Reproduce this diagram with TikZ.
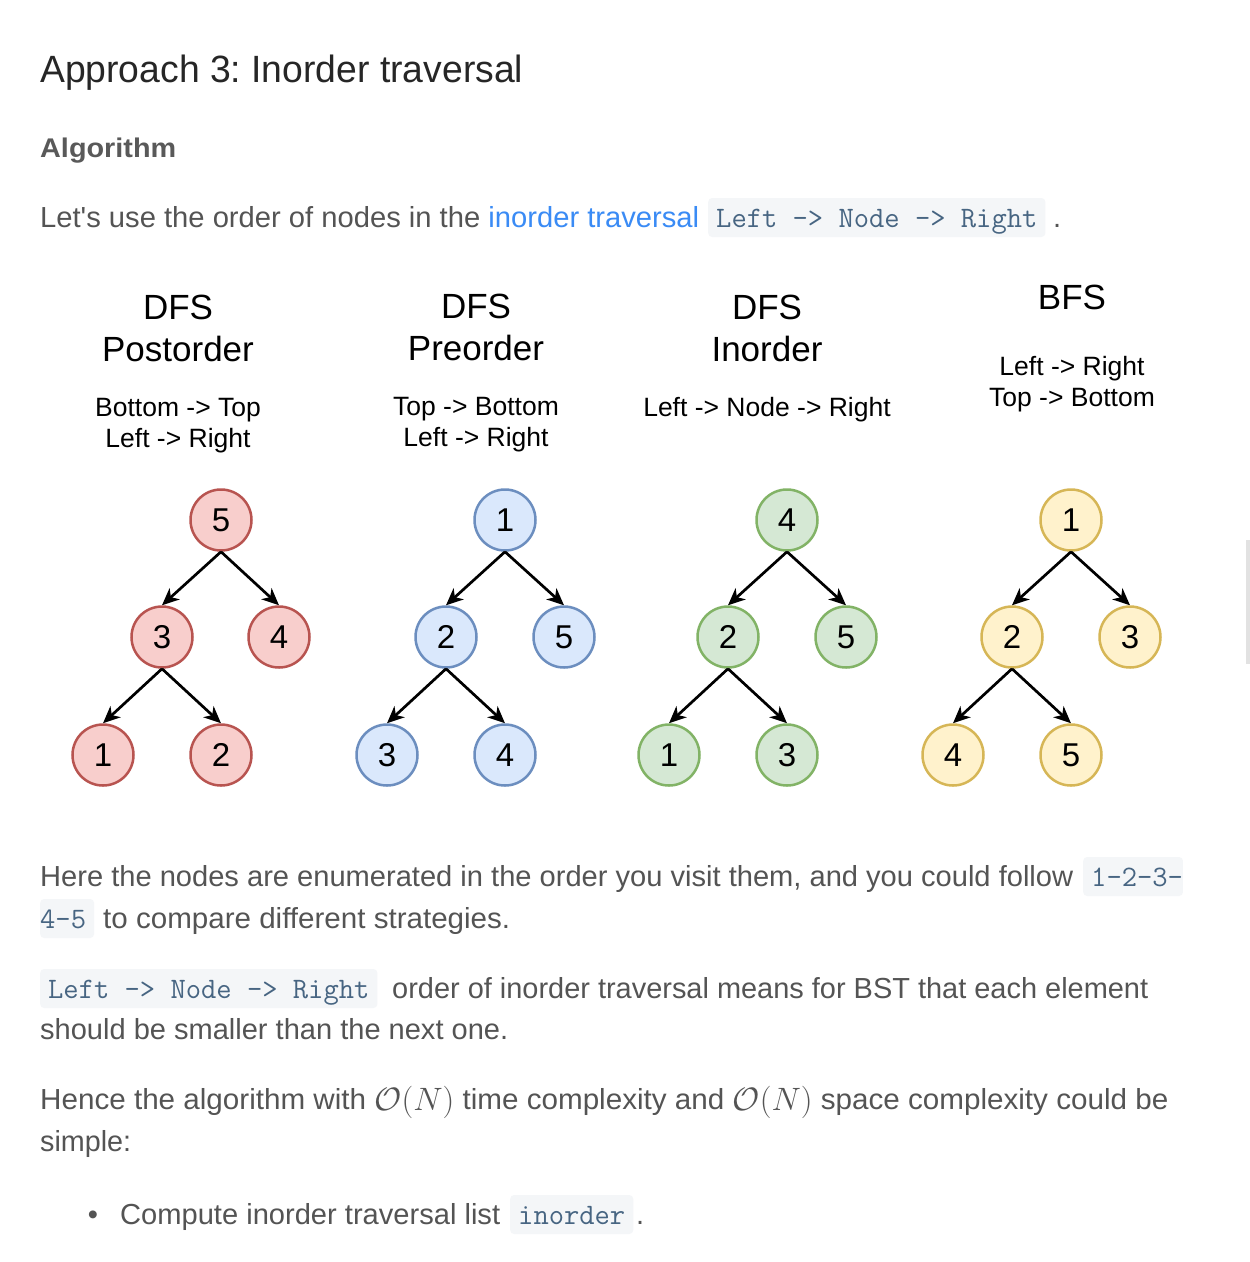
\documentclass[tikz,border=0pt]{standalone}
\usepackage{amsmath}
\usepackage[no-math]{fontspec}
\setmainfont{Liberation Sans}[Ligatures=TeXOff]
\usetikzlibrary{arrows.meta}
\frenchspacing

\definecolor{headc}{RGB}{38,38,38}
\definecolor{subc}{RGB}{89,89,89}
\definecolor{bodyc}{RGB}{84,84,84}
\definecolor{linkc}{RGB}{58,139,245}
\definecolor{codefg}{RGB}{71,101,130}
\definecolor{codebg}{RGB}{244,246,248}
\definecolor{redf}{HTML}{F8CECC}\definecolor{redd}{HTML}{B85450}
\definecolor{bluef}{HTML}{DAE8FC}\definecolor{blued}{HTML}{6C8EBF}
\definecolor{greenf}{HTML}{D5E8D4}\definecolor{greend}{HTML}{82B366}
\definecolor{yelf}{HTML}{FFF2CC}\definecolor{yeld}{HTML}{D6B656}
\definecolor{scrollc}{RGB}{226,226,226}

\newcommand{\fitw}[2]{\resizebox{#1}{\height}{#2}}
\newcommand{\bodysize}{\fontsize{29}{35}\selectfont}
\newcommand{\codesize}{\ttfamily\fontsize{29.7}{35}\selectfont}
\newcommand{\bigO}{\raisebox{-1pt}{\scalebox{1.3}{$\mathcal{O}(N)$}}}

\tikzset{
  bodytxt/.style={inner sep=0pt, anchor=base west, font=\bodysize, text=bodyc},
  codebox/.style={fill=codebg, rounded corners=4pt, inner xsep=8pt, inner ysep=0pt,
    text height=29pt, text depth=10pt, font=\codesize, text=codefg, anchor=base west},
  titletxt/.style={inner sep=0pt, anchor=base, font=\fontsize{35}{40}\selectfont, text=black},
  subtxt/.style={inner sep=0pt, anchor=base, font=\fontsize{26.5}{30}\selectfont, text=black},
  tnode/.style={circle, minimum size=61pt, inner sep=0pt, line width=2.5pt,
    font=\fontsize{33}{36}\selectfont, text=black},
  rednode/.style={tnode, draw=redd, fill=redf},
  bluenode/.style={tnode, draw=blued, fill=bluef},
  greennode/.style={tnode, draw=greend, fill=greenf},
  yelnode/.style={tnode, draw=yeld, fill=yelf},
  treearrow/.style={-{Stealth[length=17pt,width=15pt,inset=5pt]}, line width=2.7pt, black},
}

\begin{document}
\begin{tikzpicture}[x=1pt,y=-1pt]
\useasboundingbox (0,0) rectangle (1250,1262);
\fill[white] (0,0) rectangle (1250,1262);

% scrollbar
\fill[scrollc] (1246,540) rectangle (1250,664);

% heading
\node[inner sep=0pt, anchor=base west, font=\fontsize{38}{44}\selectfont, text=headc] (head) at (40,82) {\fitw{483pt}{Approach 3: Inorder traversal}};
\node[inner sep=0pt, anchor=base west, font=\fontsize{27}{32}\selectfont\bfseries, text=subc] (algo) at (40,157) {\fitw{136pt}{Algorithm}};

% line 1
\node[bodytxt] (l1) at (40,227) {\fitw{659pt}{Let's use the order of nodes in the \textcolor{linkc}{inorder traversal}}};
\node[codebox] (c1) at (708,227) {Left -> Node -> Right};
\node[bodytxt] (l1e) at (1053,227) {.};

% titles
\node[titletxt] (t1a) at (178,319.5) {DFS};
\node[titletxt] (t1b) at (178,361.5) {Postorder};
\node[subtxt] (s1a) at (178,416) {Bottom -> Top};
\node[subtxt] (s1b) at (178,447) {Left -> Right};

\node[titletxt] (t2a) at (476,318) {DFS};
\node[titletxt] (t2b) at (476,360) {Preorder};
\node[subtxt] (s2a) at (476,415) {Top -> Bottom};
\node[subtxt] (s2b) at (476,446) {Left -> Right};

\node[titletxt] (t3a) at (767,319.5) {DFS};
\node[titletxt] (t3b) at (767,361.5) {Inorder};
\node[subtxt] (s3a) at (767,416) {Left -> Node -> Right};

\node[titletxt] (t4a) at (1072,309.5) {BFS};
\node[subtxt] (s4a) at (1072,375) {Left -> Right};
\node[subtxt] (s4b) at (1072,406) {Top -> Bottom};

% tree 1 postorder
\node[rednode] (a5) at (221,520) {5};
\node[rednode] (a3) at (162,637) {3};
\node[rednode] (a4) at (279,637) {4};
\node[rednode] (a1) at (103,755) {1};
\node[rednode] (a2) at (221,755) {2};
\draw[treearrow] (a5.south) -- (a3.north);
\draw[treearrow] (a5.south) -- (a4.north);
\draw[treearrow] (a3.south) -- (a1.north);
\draw[treearrow] (a3.south) -- (a2.north);

% tree 2 preorder
\node[bluenode] (b1) at (505,520) {1};
\node[bluenode] (b2) at (446,637) {2};
\node[bluenode] (b5) at (564,637) {5};
\node[bluenode] (b3) at (387,755) {3};
\node[bluenode] (b4) at (505,755) {4};
\draw[treearrow] (b1.south) -- (b2.north);
\draw[treearrow] (b1.south) -- (b5.north);
\draw[treearrow] (b2.south) -- (b3.north);
\draw[treearrow] (b2.south) -- (b4.north);

% tree 3 inorder
\node[greennode] (g4) at (787,520) {4};
\node[greennode] (g2) at (728,637) {2};
\node[greennode] (g5) at (846,637) {5};
\node[greennode] (g1) at (669,755) {1};
\node[greennode] (g3) at (787,755) {3};
\draw[treearrow] (g4.south) -- (g2.north);
\draw[treearrow] (g4.south) -- (g5.north);
\draw[treearrow] (g2.south) -- (g1.north);
\draw[treearrow] (g2.south) -- (g3.north);

% tree 4 bfs
\node[yelnode] (y1) at (1071,520) {1};
\node[yelnode] (y2) at (1012,637) {2};
\node[yelnode] (y3) at (1130,637) {3};
\node[yelnode] (y4) at (953,755) {4};
\node[yelnode] (y5) at (1071,755) {5};
\draw[treearrow] (y1.south) -- (y2.north);
\draw[treearrow] (y1.south) -- (y3.north);
\draw[treearrow] (y2.south) -- (y4.north);
\draw[treearrow] (y2.south) -- (y5.north);

% paragraph 2
\node[bodytxt] (p2a) at (40,886) {\fitw{1033pt}{Here the nodes are enumerated in the order you visit them, and you could follow}};
\node[codebox, inner xsep=0pt] (c2a) at (1083,886) {\hspace*{8pt}1-2-3-};
\node[codebox, inner xsep=0pt] (c2b) at (40,928) {4-5\hspace*{8pt}};
\node[bodytxt] (p2b) at (103,928) {\fitw{407pt}{to compare different strategies.}};

% paragraph 3
\node[codebox] (c3) at (40,998) {Left -> Node -> Right};
\node[bodytxt] (p3a) at (392,998) {\fitw{756pt}{order of inorder traversal means for BST that each element}};
\node[bodytxt] (p3b) at (40,1039) {\fitw{468pt}{should be smaller than the next one.}};

% paragraph 4
\node[bodytxt] (p4a) at (40,1109) {\fitw{1128pt}{Hence the algorithm with \bigO{} time complexity and \bigO{} space complexity could be}};
\node[bodytxt] (p4b) at (40,1151) {\fitw{91pt}{simple:}};

% bullet
\node[bodytxt, anchor=base] (bul) at (93,1224) {\textbullet};
\node[bodytxt] (p5) at (120,1224) {\fitw{380pt}{Compute inorder traversal list}};
\node[codebox] (c5) at (510,1224) {inorder};
\node[bodytxt] (p5e) at (636,1224) {.};
\end{tikzpicture}
\end{document}
